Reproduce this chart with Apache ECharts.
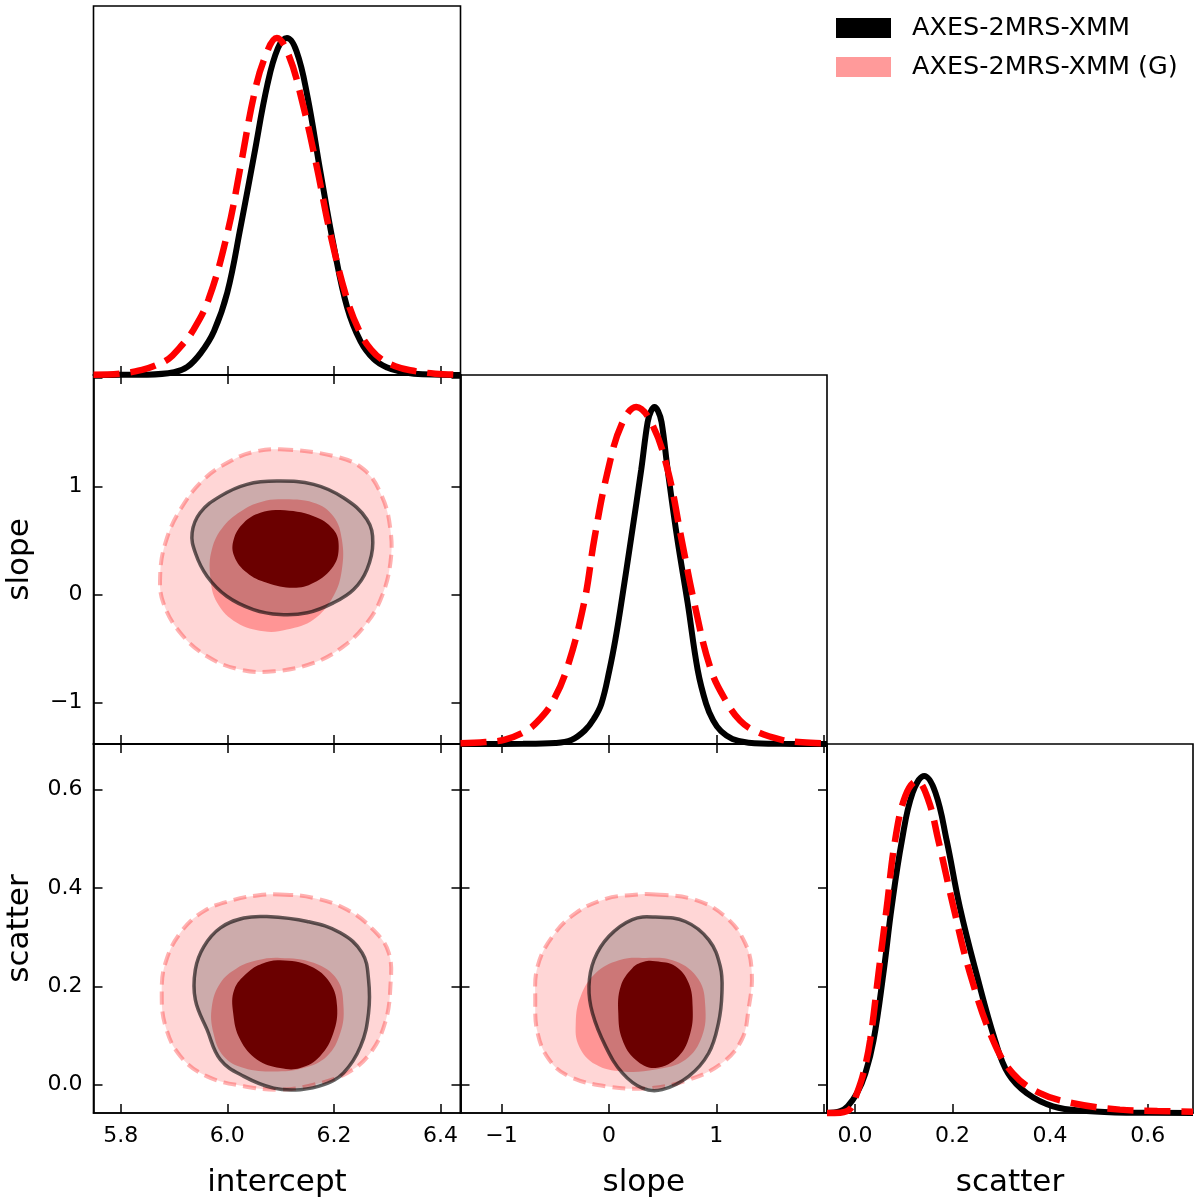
<!DOCTYPE html>
<html lang="en">
<head>
<meta charset="UTF-8">
<title>corner plot</title>
<style>
  html, body { margin: 0; padding: 0; background: #fff; }
  #chart { width: 1200px; height: 1202px; }
</style>
</head>
<body>
<div id="chart"></div>
<script src="https://cdn.jsdelivr.net/npm/echarts@6/dist/echarts.min.js"></script>
<script>
// ---- axis ranges / ticks ----
var interceptRange = [5.749, 6.4375];
var slopeRange = [-1.382, 2.03];
var scatterRange = [-0.0575, 0.693];
var densityRange = [0, 1.095];

var interceptTicks = [5.8, 6.0, 6.2, 6.4];
var interceptLabels = ['5.8', '6.0', '6.2', '6.4'];
var slopeTicks = [-1, 0, 1, 2];
var slopeLabelTicks = [-1, 0, 1];
var slopeLabels = ['\u22121', '0', '1'];
var scatterTicks = [0, 0.2, 0.4, 0.6];
var scatterLabels = ['0.0', '0.2', '0.4', '0.6'];

var nameBlack = 'AXES-2MRS-XMM';
var nameRed = 'AXES-2MRS-XMM (G)';

// ---- 1D marginals (normalised to peak) ----
var interceptBlack = [[5.749,0],[5.80,0.0005],[5.85,0.001],[5.90,0.008],[5.925,0.024],[5.95,0.065],[5.975,0.13],[6.00,0.245],[6.025,0.44],[6.05,0.65],[6.075,0.86],[6.095,0.97],[6.112,1.0],[6.13,0.96],[6.15,0.83],[6.175,0.6],[6.20,0.38],[6.225,0.2],[6.25,0.1],[6.275,0.047],[6.30,0.022],[6.325,0.01],[6.35,0.004],[6.40,0.001],[6.4375,0]];
var interceptRed = [[5.749,0.001],[5.80,0.004],[5.84,0.015],[5.865,0.028],[5.89,0.048],[5.91,0.08],[5.935,0.13],[5.965,0.225],[6.00,0.42],[6.025,0.62],[6.05,0.83],[6.07,0.94],[6.093,1.0],[6.115,0.95],[6.14,0.815],[6.168,0.617],[6.193,0.421],[6.225,0.223],[6.25,0.123],[6.27,0.075],[6.29,0.046],[6.315,0.026],[6.343,0.014],[6.39,0.004],[6.4375,0.001]];
var slopeBlack = [[-1.382,0],[-0.8,0.0005],[-0.5,0.003],[-0.35,0.012],[-0.225,0.04],[-0.14,0.075],[-0.07,0.12],[0.005,0.22],[0.06,0.31],[0.115,0.418],[0.208,0.614],[0.30,0.813],[0.36,0.955],[0.392,0.988],[0.424,1.0],[0.457,0.988],[0.49,0.955],[0.547,0.813],[0.634,0.614],[0.733,0.418],[0.826,0.22],[0.904,0.12],[0.97,0.07],[1.043,0.038],[1.15,0.015],[1.3,0.004],[1.6,0.0005],[2.03,0]];
var slopeRed = [[-1.382,0.002],[-1.15,0.006],[-0.968,0.013],[-0.766,0.04],[-0.65,0.072],[-0.534,0.12],[-0.395,0.22],[-0.232,0.418],[-0.133,0.614],[-0.009,0.813],[0.12,0.95],[0.254,1.0],[0.40,0.95],[0.547,0.813],[0.672,0.614],[0.795,0.418],[0.95,0.22],[1.104,0.12],[1.22,0.07],[1.352,0.04],[1.6,0.013],[1.8,0.005],[2.03,0.002]];
var scatterBlack = [[-0.0575,0],[-0.03,0.006],[-0.015,0.02],[0.004,0.059],[0.021,0.117],[0.038,0.216],[0.058,0.413],[0.075,0.61],[0.096,0.808],[0.118,0.95],[0.142,1.0],[0.165,0.95],[0.188,0.808],[0.215,0.61],[0.249,0.413],[0.287,0.216],[0.314,0.117],[0.352,0.059],[0.406,0.02],[0.475,0.006],[0.56,0.001],[0.693,0]];
var scatterRed = [[-0.0575,0],[-0.03,0.001],[-0.01,0.012],[0.004,0.059],[0.017,0.117],[0.031,0.216],[0.048,0.413],[0.065,0.61],[0.082,0.808],[0.103,0.94],[0.127,0.985],[0.15,0.93],[0.171,0.808],[0.202,0.61],[0.236,0.413],[0.283,0.216],[0.324,0.117],[0.379,0.059],[0.447,0.029],[0.543,0.01],[0.62,0.006],[0.693,0.004]];

// ---- 2D contours: intercept vs slope ----
var isRedOuter = [[6.099,1.343],[6.199,1.281],[6.256,1.157],[6.290,0.910],[6.306,0.602],[6.306,0.294],[6.290,-0.016],[6.262,-0.262],[6.218,-0.479],[6.162,-0.632],[6.087,-0.710],[6.024,-0.694],[5.962,-0.571],[5.912,-0.355],[5.880,-0.077],[5.874,0.169],[5.884,0.479],[5.912,0.787],[5.956,1.065],[6.006,1.234],[6.049,1.318]];
var isRedInner = [[6.099,0.880],[6.162,0.849],[6.199,0.725],[6.215,0.509],[6.215,0.231],[6.199,-0.016],[6.162,-0.231],[6.112,-0.324],[6.068,-0.340],[6.018,-0.262],[5.981,-0.077],[5.968,0.169],[5.971,0.417],[5.993,0.632],[6.031,0.787],[6.065,0.858]];
var isBlackOuter = [[6.093,1.049],[6.162,1.019],[6.218,0.895],[6.262,0.694],[6.273,0.479],[6.262,0.231],[6.237,0.046],[6.199,-0.077],[6.150,-0.169],[6.099,-0.185],[6.049,-0.139],[5.999,-0.016],[5.962,0.169],[5.940,0.386],[5.934,0.571],[5.949,0.756],[5.987,0.910],[6.037,1.019]];
var isBlackInner = [[6.099,0.781],[6.162,0.725],[6.199,0.602],[6.209,0.447],[6.199,0.262],[6.162,0.108],[6.124,0.062],[6.074,0.108],[6.037,0.201],[6.013,0.355],[6.012,0.509],[6.031,0.664],[6.062,0.756]];

// ---- 2D contours: intercept vs scatter ----
var icRedOuter = [[6.099,0.387],[6.162,0.380],[6.225,0.356],[6.274,0.315],[6.303,0.268],[6.306,0.200],[6.296,0.126],[6.268,0.064],[6.225,0.024],[6.162,0.000],[6.099,-0.010],[6.031,-0.003],[5.962,0.017],[5.912,0.058],[5.884,0.119],[5.877,0.187],[5.884,0.248],[5.912,0.309],[5.956,0.353],[6.012,0.376],[6.056,0.385]];
var icRedInner = [[6.099,0.258],[6.162,0.248],[6.206,0.214],[6.218,0.159],[6.212,0.105],[6.187,0.058],[6.143,0.034],[6.087,0.027],[6.031,0.034],[5.993,0.058],[5.974,0.105],[5.971,0.159],[5.987,0.207],[6.018,0.237],[6.056,0.253]];
var icBlackOuter = [[6.074,0.342],[6.150,0.332],[6.212,0.309],[6.253,0.268],[6.265,0.214],[6.265,0.146],[6.250,0.078],[6.218,0.024],[6.181,0.000],[6.137,-0.010],[6.087,-0.007],[6.031,0.017],[5.987,0.051],[5.962,0.112],[5.940,0.173],[5.940,0.234],[5.956,0.281],[5.987,0.319],[6.031,0.339]];
var icBlackInner = [[6.099,0.253],[6.156,0.241],[6.193,0.207],[6.206,0.159],[6.199,0.105],[6.174,0.058],[6.137,0.034],[6.099,0.034],[6.056,0.051],[6.024,0.092],[6.011,0.146],[6.013,0.193],[6.037,0.227],[6.065,0.246]];

// ---- 2D contours: slope vs scatter ----
var scRedOuter = [[0.433,0.387],[0.804,0.376],[1.083,0.342],[1.268,0.288],[1.330,0.227],[1.299,0.153],[1.237,0.092],[1.052,0.044],[0.742,0.010],[0.371,-0.007],[-0.031,-0.003],[-0.371,0.017],[-0.557,0.051],[-0.664,0.105],[-0.686,0.173],[-0.664,0.241],[-0.525,0.302],[-0.309,0.349],[-0.031,0.378],[0.217,0.386]];
var scRedInner = [[0.310,0.258],[0.619,0.251],[0.835,0.214],[0.897,0.159],[0.866,0.098],[0.712,0.051],[0.433,0.031],[0.124,0.027],[-0.123,0.041],[-0.278,0.078],[-0.309,0.126],[-0.263,0.180],[-0.123,0.227],[0.093,0.253]];
var scBlackOuter = [[0.433,0.341],[0.712,0.332],[0.928,0.295],[1.036,0.241],[1.052,0.187],[1.020,0.126],[0.928,0.064],[0.742,0.017],[0.495,-0.010],[0.310,-0.007],[0.124,0.024],[-0.031,0.078],[-0.154,0.146],[-0.186,0.200],[-0.139,0.254],[0.000,0.302],[0.217,0.336]];
var scBlackInner = [[0.433,0.251],[0.619,0.241],[0.742,0.207],[0.779,0.159],[0.758,0.105],[0.649,0.058],[0.433,0.034],[0.248,0.051],[0.124,0.092],[0.087,0.146],[0.109,0.200],[0.217,0.237],[0.325,0.250]];

var FONT = 'DejaVu Sans';

function labelFormatter(vals, texts) {
    return function (v) {
        for (var i = 0; i < vals.length; i++) {
            if (Math.abs(vals[i] - v) < 1e-9) return texts[i];
        }
        return '';
    };
}

function axis(grid, range, pos, ticks, labelVals, labelTexts, name) {
    var vertical = (pos === 'left' || pos === 'right');
    return {
        type: 'value',
        gridIndex: grid,
        position: pos,
        min: range[0],
        max: range[1],
        axisLine: { show: true, onZero: false, lineStyle: { color: '#000', width: 1.6 } },
        axisTick: { show: true, inside: true, length: 9, customValues: ticks, lineStyle: { color: '#000', width: 1.5 } },
        axisLabel: {
            show: !!labelVals,
            customValues: labelVals || ticks,
            formatter: labelVals ? labelFormatter(labelVals, labelTexts) : '',
            fontSize: 22, fontFamily: FONT, color: '#000',
            margin: vertical ? 11 : 12
        },
        splitLine: { show: false },
        name: name || '',
        nameLocation: 'middle',
        nameGap: vertical ? 58 : 54,
        nameTextStyle: { fontSize: 31, fontFamily: FONT, color: '#000' }
    };
}

function hiddenY(grid) {
    return { type: 'value', gridIndex: grid, min: densityRange[0], max: densityRange[1], show: false };
}

function density(name, data, xi, yi, red) {
    return {
        type: 'line', name: name, xAxisIndex: xi, yAxisIndex: yi, data: data,
        symbol: 'none', showSymbol: false, smooth: 0.4, clip: false,
        z: red ? 4 : 3, silent: true,
        lineStyle: red ? { color: '#ff0000', width: 6.5, type: [26, 11] } : { color: '#000', width: 6 }
    };
}

function contour(pts, xi, yi, style, z) {
    return {
        type: 'custom', xAxisIndex: xi, yAxisIndex: yi, data: pts, z: z, silent: true, clip: false,
        renderItem: function (params, api) {
            if (params.dataIndex !== 0) return null;
            return {
                type: 'polygon',
                shape: { points: pts.map(function (p) { return api.coord(p); }), smooth: 0.4 },
                style: style
            };
        }
    };
}

var redOuterStyle = { fill: 'rgba(255,0,0,0.16)', stroke: 'rgba(255,40,40,0.36)', lineWidth: 4, lineDash: [13, 7] };
var redInnerStyle = { fill: 'rgba(255,0,0,0.3)' };
var blackOuterStyle = { fill: 'rgba(0,0,0,0.2)', stroke: 'rgba(0,0,0,0.6)', lineWidth: 3.5 };
var blackInnerStyle = { fill: '#6b0000' };

function panel2d(ro, ri, bo, bi, xi, yi) {
    return [
        contour(ro, xi, yi, redOuterStyle, 1),
        contour(ri, xi, yi, redInnerStyle, 2),
        contour(bo, xi, yi, blackOuterStyle, 3),
        contour(bi, xi, yi, blackInnerStyle, 4)
    ];
}

var L = [93.5, 460.5, 827];
var W = [367, 366.5, 366];
var T = [6, 375, 744];
var H = 369;

function grid(c, r) {
    return { left: L[c], top: T[r], width: W[c], height: H, show: true, borderColor: '#000', borderWidth: 1.6, backgroundColor: 'transparent' };
}

var option = {
    backgroundColor: '#fff',
    animation: false,
    grid: [grid(0, 0), grid(0, 1), grid(1, 1), grid(0, 2), grid(1, 2), grid(2, 2)],
    xAxis: [
        axis(0, interceptRange, 'bottom', interceptTicks),
        axis(1, interceptRange, 'bottom', interceptTicks),
        axis(1, interceptRange, 'top', interceptTicks),
        axis(2, slopeRange, 'bottom', slopeTicks),
        axis(3, interceptRange, 'bottom', interceptTicks, interceptTicks, interceptLabels, 'intercept'),
        axis(3, interceptRange, 'top', interceptTicks),
        axis(4, slopeRange, 'bottom', slopeTicks, slopeLabelTicks, slopeLabels, 'slope'),
        axis(4, slopeRange, 'top', slopeTicks),
        axis(5, scatterRange, 'bottom', scatterTicks, scatterTicks, scatterLabels, 'scatter')
    ],
    yAxis: [
        hiddenY(0),
        axis(1, slopeRange, 'left', slopeTicks, slopeLabelTicks, slopeLabels, 'slope'),
        axis(1, slopeRange, 'right', slopeTicks),
        hiddenY(2),
        axis(3, scatterRange, 'left', scatterTicks, scatterTicks, scatterLabels, 'scatter'),
        axis(3, scatterRange, 'right', scatterTicks),
        axis(4, scatterRange, 'left', scatterTicks),
        axis(4, scatterRange, 'right', scatterTicks),
        hiddenY(5)
    ],
    legend: {
        orient: 'vertical', left: 836, top: 15, padding: 0,
        itemWidth: 55, itemHeight: 20, itemGap: 13, icon: 'rect', selectedMode: false,
        itemStyle: { borderWidth: 0 },
        textStyle: { fontSize: 25.5, fontFamily: FONT, color: '#000', lineHeight: 26, padding: [0, 0, 0, 16] },
        data: [
            { name: nameBlack, itemStyle: { color: '#000000' } },
            { name: nameRed, itemStyle: { color: '#ff9a9a' } }
        ]
    },
    series: [].concat(
        [
            density(nameBlack, interceptBlack, 0, 0, false),
            density(nameRed, interceptRed, 0, 0, true),
            density(nameBlack, slopeBlack, 3, 3, false),
            density(nameRed, slopeRed, 3, 3, true),
            density(nameBlack, scatterBlack, 8, 8, false),
            density(nameRed, scatterRed, 8, 8, true)
        ],
        panel2d(isRedOuter, isRedInner, isBlackOuter, isBlackInner, 1, 1),
        panel2d(icRedOuter, icRedInner, icBlackOuter, icBlackInner, 4, 4),
        panel2d(scRedOuter, scRedInner, scBlackOuter, scBlackInner, 6, 6)
    )
};

var chart = echarts.init(document.getElementById('chart'));
chart.setOption(option);
</script>
</body>
</html>
